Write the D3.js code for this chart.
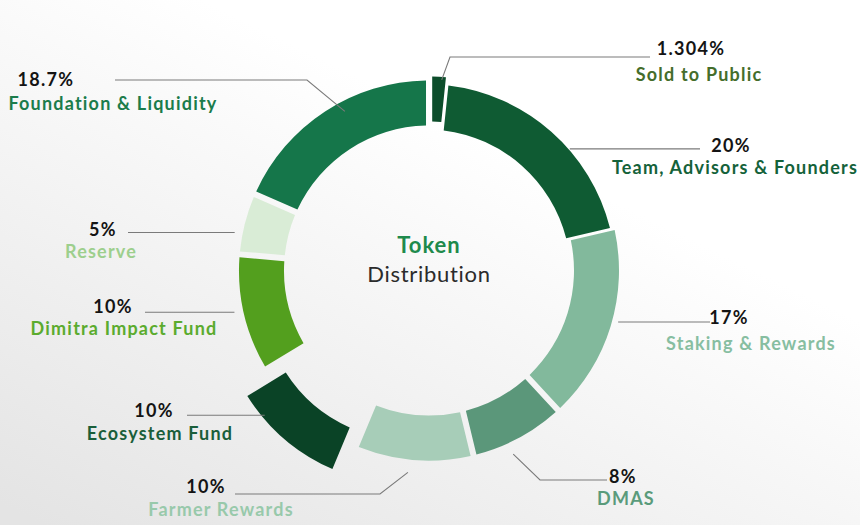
<!DOCTYPE html>
<html>
<head>
<meta charset="utf-8">
<script src="https://cdn.jsdelivr.net/npm/d3@7"></script>
<style>
  html, body { margin: 0; padding: 0; }
  body { width: 860px; height: 525px; overflow: hidden; }
  #token-chart svg { display: block; }
</style>
</head>
<body>
<div id="token-chart"></div>
<script>
// slices, clockwise from 12 o'clock
const categories = [
  "Sold to Public",
  "Team, Advisors & Founders",
  "Staking & Rewards",
  "DMAS",
  "Farmer Rewards",
  "Ecosystem Fund",
  "Dimitra Impact Fund",
  "Reserve",
  "Foundation & Liquidity"
];
const shares = [1.304, 20, 17, 8, 10, 10, 10, 5, 18.7];
const shareLabels = ["1.304%", "20%", "17%", "8%", "10%", "10%", "10%", "5%", "18.7%"];

const sliceColors = ["#0c4d2b", "#0f5b33", "#82b99c", "#5b977a", "#a7cdb8", "#0a4326", "#539f1e", "#d9ecd6", "#15764a"];
const nameColors = ["#456d2b", "#14623a", "#87bea1", "#5a9b7b", "#98c9ab", "#1a5e3a", "#5bab2e", "#9dcf8d", "#1b7c4b"];

// how far each slice is pushed out from the centre (px)
const sliceShift = [4, -5, 0, 0, 0, 32, 0, 0, 0];

// leader lines + label placement (same order as categories)
// at = fraction along the slice where the line touches, r = radius of that point
const labelLayout = [
  { at: 0.64, r: 191, bend: [450, 57], end: 650, pct: [691, 48], name: [699, 74] },
  { at: 0.61, r: 186, bend: null, end: 700, pct: [731, 145], name: [735, 167] },
  { at: 0.47, r: 196, bend: null, end: 710, pct: [729, 317], name: [751, 343] },
  { at: 0.62, r: 202, bend: [540, 480], end: 607, pct: [623, 476], name: [626, 498] },
  { at: 0.54, r: 203, bend: [380, 494], end: 235, pct: [206, 486], name: [221, 509] },
  { at: 0.72, r: 219, bend: null, end: 187, pct: [154, 410], name: [160, 433] },
  { at: 0.53, r: 199, bend: null, end: 145, pct: [113, 306], name: [124, 328] },
  { at: 0.33, r: 198, bend: null, end: 128, pct: [103, 229], name: [101, 251] },
  { at: 0.58, r: 180, bend: [307, 80], end: 115, pct: [46, 79], name: [113, 103] }
];

const width = 860;
const height = 525;
const cx = 429;
const cy = 270.5;
const innerR = 145;
const outerR = 190;

const svg = d3
  .select("#token-chart")
  .append("svg")
  .attr("width", width)
  .attr("height", height);

// soft grey wash, lighter towards the top right
const grad = svg
  .append("defs")
  .append("linearGradient")
  .attr("id", "bg")
  .attr("x1", "0.85")
  .attr("y1", "0")
  .attr("x2", "0.05")
  .attr("y2", "1");
grad.append("stop").attr("offset", "0.3").attr("stop-color", "#ffffff");
grad.append("stop").attr("offset", "1").attr("stop-color", "#e4e4e4");

svg.append("rect").attr("width", width).attr("height", height).attr("fill", "url(#bg)");

const data = categories.map((name, i) => ({
  name,
  value: shares[i],
  label: shareLabels[i],
  index: i
}));

const pie = d3
  .pie()
  .sort(null)
  .value((d) => d.value)
  .padAngle(0.025);

const arcs = pie(data);

const arc = d3.arc().innerRadius(innerR).outerRadius(outerR);

const g = svg.append("g").attr("transform", `translate(${cx},${cy})`);

// ring slices
g.selectAll(".slice")
  .data(arcs)
  .enter()
  .append("path")
  .attr("class", "slice")
  .attr("fill", (d) => sliceColors[d.data.index])
  .attr("transform", (d) => {
    const mid = (d.startAngle + d.endAngle) / 2;
    const s = sliceShift[d.data.index];
    return `translate(${s * Math.sin(mid)},${-s * Math.cos(mid)})`;
  })
  .attr("d", arc);

// leader lines
const linePoints = (d) => {
  const lay = labelLayout[d.data.index];
  const a = d.startAngle + lay.at * (d.endAngle - d.startAngle);
  const p = [cx + lay.r * Math.sin(a), cy - lay.r * Math.cos(a)];
  if (lay.bend) return [p, lay.bend, [lay.end, lay.bend[1]]];
  return [p, [lay.end, p[1]]];
};

svg
  .selectAll(".leader")
  .data(arcs)
  .enter()
  .append("path")
  .attr("class", "leader")
  .attr("fill", "none")
  .attr("stroke", "#7a7a7a")
  .attr("stroke-width", 1.1)
  .attr("d", (d) => d3.line()(linePoints(d)));

// percentages
svg
  .selectAll(".pct")
  .data(arcs)
  .enter()
  .append("text")
  .attr("class", "pct")
  .attr("x", (d) => labelLayout[d.data.index].pct[0])
  .attr("y", (d) => labelLayout[d.data.index].pct[1])
  .attr("text-anchor", "middle")
  .attr("dominant-baseline", "central")
  .attr("font-family", "Lato, 'Open Sans', sans-serif")
  .attr("font-weight", 700)
  .attr("font-size", 18)
  .attr("letter-spacing", 1.3)
  .attr("fill", "#141414")
  .text((d) => d.data.label);

// category names
svg
  .selectAll(".name")
  .data(arcs)
  .enter()
  .append("text")
  .attr("class", "name")
  .attr("x", (d) => labelLayout[d.data.index].name[0])
  .attr("y", (d) => labelLayout[d.data.index].name[1])
  .attr("text-anchor", "middle")
  .attr("dominant-baseline", "central")
  .attr("font-family", "Lato, 'Open Sans', sans-serif")
  .attr("font-weight", 700)
  .attr("font-size", 18)
  .attr("letter-spacing", 1.2)
  .attr("fill", (d) => nameColors[d.data.index])
  .text((d) => d.data.name);

// centre title
g.append("text")
  .attr("y", -26)
  .attr("text-anchor", "middle")
  .attr("dominant-baseline", "central")
  .attr("font-family", "Lato, sans-serif")
  .attr("font-weight", 700)
  .attr("font-size", 22)
  .attr("letter-spacing", 1)
  .attr("fill", "#1e8a4c")
  .text("Token");

g.append("text")
  .attr("y", 3)
  .attr("text-anchor", "middle")
  .attr("dominant-baseline", "central")
  .attr("font-family", "Lato, sans-serif")
  .attr("font-size", 22)
  .attr("letter-spacing", 0.7)
  .attr("fill", "#2b2b2b")
  .text("Distribution");
</script>
</body>
</html>
